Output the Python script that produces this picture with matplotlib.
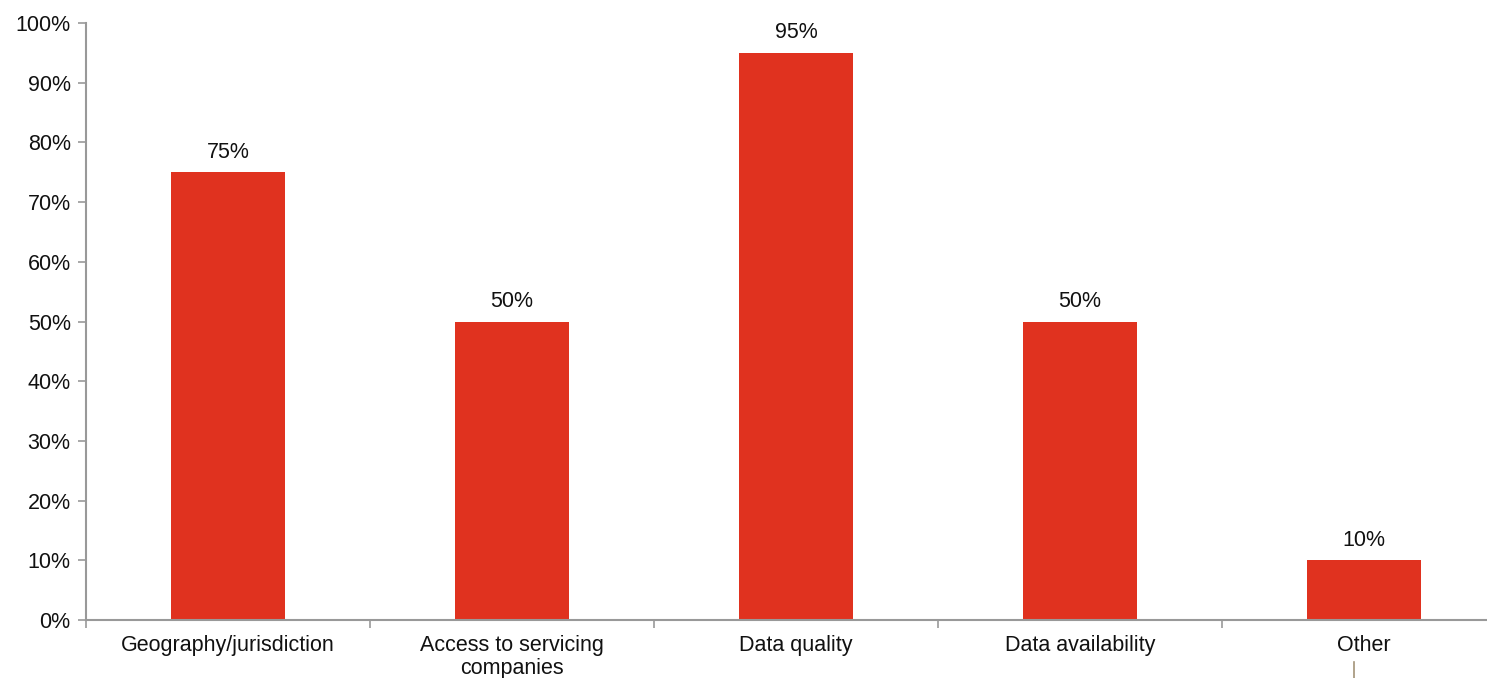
import matplotlib
matplotlib.use("Agg")
import matplotlib.pyplot as plt
import numpy as np

plt.rcParams["font.family"] = ["Liberation Sans", "DejaVu Sans"]

categories = ["Geography/jurisdiction", "Access to servicing\ncompanies", "Data quality",
              "Data availability", "Other"]
values = [75, 50, 95, 50, 10]
BAR_COLOR = "#E0321F"
AXIS_COLOR = "#999999"
FS = 15.5


def main() -> int:
    fig = plt.figure(figsize=(14.87, 6.78), dpi=100)
    ax = fig.add_axes([86 / 1487, 58 / 678, 1 - 86 / 1487, (620 - 23) / 678])
    x = np.arange(len(categories))
    ax.bar(x, values, width=0.4, color=BAR_COLOR, zorder=2)
    for xi, v in zip(x, values):
        ax.text(xi, v + 1.6, f"{v}%", ha="center", va="bottom", fontsize=FS, color="#111111")

    ax.set_yticks(np.arange(0, 101, 10))
    ax.set_yticklabels([f"{t}%" for t in range(0, 101, 10)], fontsize=FS, color="#111111")
    ax.set_xticks(x)
    ax.set_xticklabels(categories, fontsize=FS, color="#111111", linespacing=1.1)
    ax.set_xticks(np.arange(-0.5, len(categories), 1.0), minor=True)
    ax.set_xlim(-0.5, 4.433)
    ax.set_ylim(0, 100)
    ax.tick_params(axis="x", which="major", length=0, pad=11)
    ax.tick_params(axis="x", which="minor", length=6, color=AXIS_COLOR, width=1.2)
    ax.tick_params(axis="y", length=6, color=AXIS_COLOR, width=1.2, pad=5)
    for s in ("top", "right"):
        ax.spines[s].set_visible(False)
    for s in ("left", "bottom"):
        ax.spines[s].set_color(AXIS_COLOR)
        ax.spines[s].set_linewidth(1.5)

    # small stray mark under the last label
    fig.add_artist(plt.Line2D([1354 / 1487, 1354 / 1487], [0, 16 / 678],
                              color="#a39478", linewidth=1.2))

    fig.savefig("out.png", dpi=100)
    plt.close(fig)
    return 0


if __name__ == "__main__":
    raise SystemExit(main())
